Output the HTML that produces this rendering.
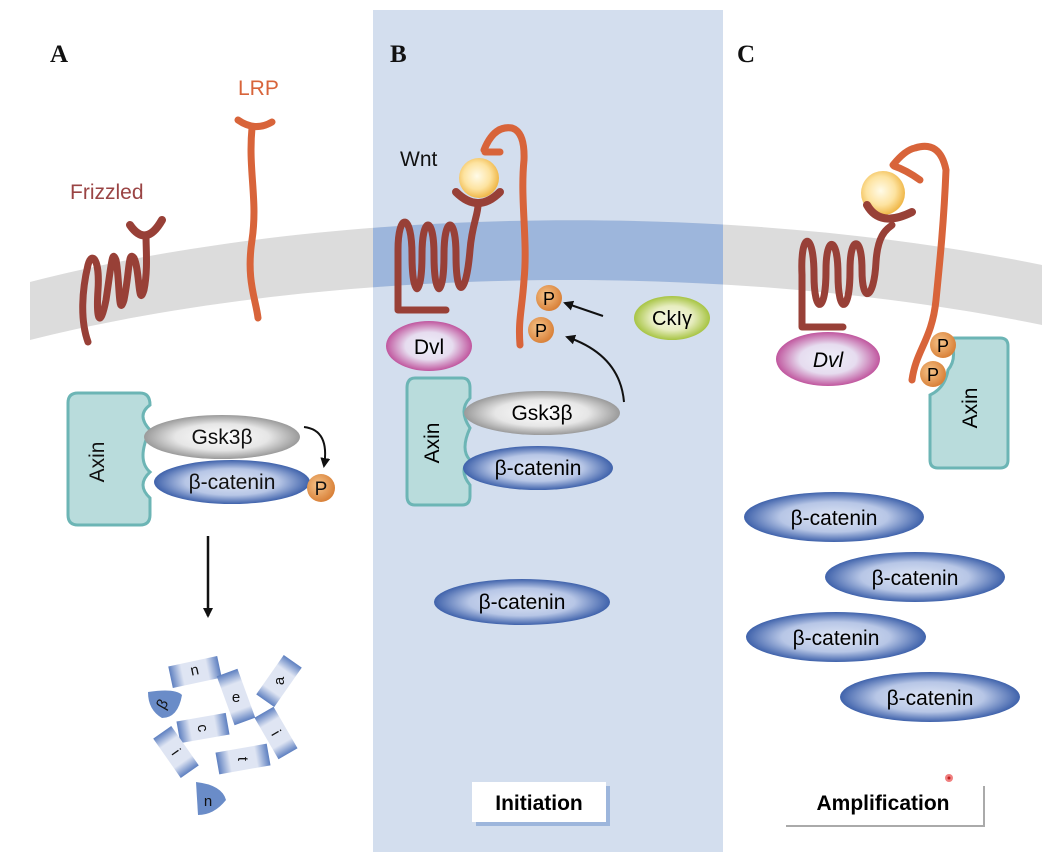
<!DOCTYPE html>
<html><head><meta charset="utf-8"><style>
html,body{margin:0;padding:0;background:#fff}
svg{display:block}
text{font-family:"Liberation Sans",sans-serif}
text.lbl{font-family:"Liberation Serif",serif;font-weight:bold}
</style></head><body>
<svg width="1064" height="868" viewBox="0 0 1064 868" xmlns="http://www.w3.org/2000/svg">
<defs>
<radialGradient id="cat" cx="50%" cy="50%" r="50%"><stop offset="0" stop-color="#dfe6f5"/><stop offset="0.6" stop-color="#b7c6e6"/><stop offset="1" stop-color="#3f62ab"/></radialGradient>
<radialGradient id="gsk" cx="50%" cy="50%" r="50%"><stop offset="0" stop-color="#ffffff"/><stop offset="0.6" stop-color="#e6e6e6"/><stop offset="1" stop-color="#9a9a9a"/></radialGradient>
<radialGradient id="dvl" cx="50%" cy="50%" r="50%"><stop offset="0" stop-color="#eef0fa"/><stop offset="0.55" stop-color="#e6dcef"/><stop offset="1" stop-color="#c0569e"/></radialGradient>
<radialGradient id="ck" cx="50%" cy="50%" r="50%"><stop offset="0" stop-color="#f6f7e6"/><stop offset="0.55" stop-color="#e7edc0"/><stop offset="1" stop-color="#a7c443"/></radialGradient>
<radialGradient id="pp" cx="40%" cy="40%" r="60%"><stop offset="0" stop-color="#f6c48a"/><stop offset="1" stop-color="#d9823a"/></radialGradient>
<radialGradient id="wnt" cx="45%" cy="45%" r="55%"><stop offset="0" stop-color="#fffbe8"/><stop offset="0.6" stop-color="#fde3a0"/><stop offset="1" stop-color="#f0b84a"/></radialGradient>
<linearGradient id="frag" x1="0" y1="0" x2="1" y2="0"><stop offset="0" stop-color="#5d7fc0"/><stop offset="0.25" stop-color="#dfe5f3"/><stop offset="0.75" stop-color="#dfe5f3"/><stop offset="1" stop-color="#5d7fc0"/></linearGradient>
<clipPath id="bclip"><rect x="373" y="10" width="350" height="842"/></clipPath>
<marker id="ah" markerWidth="10" markerHeight="10" refX="8" refY="5" orient="auto" markerUnits="userSpaceOnUse"><path d="M0,0 L10,5 L0,10 Z" fill="#111"/></marker>
</defs>

<rect x="373" y="10" width="350" height="842" fill="#d3deee"/>

<path d="M30,282 C300,212 700,195 1042,265 L1042,325 C700,255 300,272 30,340 Z" fill="#dcdcdc"/>
<path d="M30,282 C300,212 700,195 1042,265 L1042,325 C700,255 300,272 30,340 Z" fill="#9db6dc" clip-path="url(#bclip)"/>

<text class="lbl" x="50" y="62" font-size="25" fill="#111">A</text>
<text class="lbl" x="390" y="62" font-size="25" fill="#111">B</text>
<text class="lbl" x="737" y="62" font-size="25" fill="#111">C</text>
<text x="238" y="95" font-size="21" fill="#d8643a">LRP</text>
<text x="70" y="199" font-size="21" fill="#9a4444">Frizzled</text>

<!-- Panel A receptors -->
<path d="M238,120 Q255,132 272,122 M252,128 C248,170 258,200 252,240 C246,280 256,300 258,318" stroke="#d8643a" stroke-width="7" fill="none" stroke-linecap="round"/>
<path d="M88,342 C80,320 82,290 88,265 C92,250 100,260 98,290 C96,320 100,330 106,300 C112,260 112,250 116,260 C120,280 118,320 124,300 C130,270 128,250 134,258 C140,270 138,310 144,290 C148,270 146,250 146,235" stroke="#984037" stroke-width="7" fill="none" stroke-linecap="round"/>
<path d="M130,225 Q146,248 162,220" stroke="#984037" stroke-width="8" fill="none" stroke-linecap="round"/>

<path d="M78,393 H140 Q150,393 150,405 Q136,415 150,430 Q136,460 150,472 Q136,485 150,498 V515 Q150,525 140,525 H78 Q68,525 68,515 V403 Q68,393 78,393 Z" fill="#b9dcdc" stroke="#6cb5b5" stroke-width="3"/>
<text transform="translate(104,462) rotate(-90)" font-size="21" text-anchor="middle" fill="#111">Axin</text>
<ellipse cx="222" cy="437" rx="78" ry="22" fill="url(#gsk)"/>
<text x="222" y="444" font-size="21" text-anchor="middle" fill="#111">Gsk3β</text>
<ellipse cx="232" cy="482" rx="78" ry="22" fill="url(#cat)"/>
<text x="232" y="489" font-size="21" text-anchor="middle" fill="#111">β-catenin</text>
<circle cx="321" cy="488" r="14" fill="url(#pp)"/>
<text x="321" y="495" font-size="19" text-anchor="middle" fill="#111">P</text>
<path d="M304,427 Q330,430 324,466" stroke="#111" stroke-width="2" fill="none" marker-end="url(#ah)"/>
<line x1="208" y1="536" x2="208" y2="616" stroke="#111" stroke-width="2.5" marker-end="url(#ah)"/>

<g font-size="15" fill="#111" text-anchor="middle">
<g transform="translate(195,672) rotate(-12)"><rect x="-25" y="-11" width="50" height="22" fill="url(#frag)"/><text y="5" transform="rotate(180)">u</text></g>
<g transform="translate(236,697) rotate(70)"><rect x="-26" y="-11" width="52" height="22" fill="url(#frag)"/><text y="5" transform="rotate(-70)">e</text></g>
<g transform="translate(279,681) rotate(-55)"><rect x="-24" y="-11" width="48" height="22" fill="url(#frag)"/><text y="5" transform="rotate(-35)">a</text></g>
<g transform="translate(203,728) rotate(-10)"><rect x="-25" y="-11" width="50" height="22" fill="url(#frag)"/><text y="5" transform="rotate(90)">c</text></g>
<g transform="translate(276,733) rotate(60)"><rect x="-24" y="-11" width="48" height="22" fill="url(#frag)"/><text y="5">i</text></g>
<g transform="translate(176,752) rotate(55)"><rect x="-24" y="-11" width="48" height="22" fill="url(#frag)"/><text y="5">i</text></g>
<g transform="translate(243,759) rotate(-10)"><rect x="-26" y="-11" width="52" height="22" fill="url(#frag)"/><text y="5" transform="rotate(100)">t</text></g>
<path d="M148,692 Q175,688 182,695 Q178,718 162,718 Q148,710 148,692 Z" fill="#6a8cc8"/><text x="164" y="708" transform="rotate(-60 164 705)">β</text>
<path d="M196,782 Q222,785 226,800 Q214,815 198,815 Z" fill="#6a8cc8"/><text x="208" y="806">n</text>
</g>

<!-- Panel B -->
<text x="400" y="166" font-size="21" fill="#111">Wnt</text>
<path d="M484,150 Q494,125 512,128 Q525,132 524,160 C520,200 528,240 524,280 C522,310 518,320 520,345" stroke="#d8643a" stroke-width="7" fill="none" stroke-linecap="round"/>
<path d="M485,152 L500,152" stroke="#d8643a" stroke-width="7" stroke-linecap="round"/>
<circle cx="479" cy="178" r="20" fill="url(#wnt)"/>
<path d="M456,192 Q478,214 500,192" stroke="#984037" stroke-width="8" fill="none" stroke-linecap="round"/>
<path d="M446,310 H398 V250 C398,212 412,212 412,255 C412,300 422,300 422,255 C422,215 434,215 434,255 C434,300 444,300 444,255 C444,215 456,215 456,255 C456,300 466,298 470,250 C472,225 478,215 478,205" stroke="#984037" stroke-width="7" fill="none" stroke-linecap="round" stroke-linejoin="round"/>
<circle cx="549" cy="298" r="13" fill="url(#pp)"/><text x="549" y="305" font-size="18" text-anchor="middle">P</text>
<circle cx="541" cy="330" r="13" fill="url(#pp)"/><text x="541" y="337" font-size="18" text-anchor="middle">P</text>
<ellipse cx="672" cy="318" rx="38" ry="22" fill="url(#ck)"/>
<text x="672" y="325" font-size="20" text-anchor="middle">CkIγ</text>
<line x1="603" y1="316" x2="565" y2="303" stroke="#111" stroke-width="2" marker-end="url(#ah)"/>
<path d="M624,402 Q620,355 567,337" stroke="#111" stroke-width="2" fill="none" marker-end="url(#ah)"/>
<ellipse cx="429" cy="346" rx="43" ry="25" fill="url(#dvl)"/>
<text x="429" y="354" font-size="21" text-anchor="middle">Dvl</text>
<path d="M415,378 H462 Q470,378 470,388 V398 Q458,410 470,428 Q460,450 470,460 Q458,470 470,485 V496 Q470,505 462,505 H415 Q407,505 407,496 V388 Q407,378 415,378 Z" fill="#b9dcdc" stroke="#6cb5b5" stroke-width="3"/>
<text transform="translate(439,443) rotate(-90)" font-size="21" text-anchor="middle">Axin</text>
<ellipse cx="542" cy="413" rx="78" ry="22" fill="url(#gsk)"/>
<text x="542" y="420" font-size="21" text-anchor="middle">Gsk3β</text>
<ellipse cx="538" cy="468" rx="75" ry="22" fill="url(#cat)"/>
<text x="538" y="475" font-size="21" text-anchor="middle">β-catenin</text>
<ellipse cx="522" cy="602" rx="88" ry="23" fill="url(#cat)"/>
<text x="522" y="609" font-size="21" text-anchor="middle">β-catenin</text>
<rect x="476" y="786" width="134" height="40" fill="#9db6dc"/>
<rect x="472" y="782" width="134" height="40" fill="#fff"/>
<text x="539" y="810" font-size="21" font-weight="bold" text-anchor="middle">Initiation</text>

<!-- Panel C -->
<path d="M893,165 Q905,150 915,148 Q940,140 946,170 C944,220 940,260 936,300 C932,340 916,350 912,380" stroke="#d8643a" stroke-width="7" fill="none" stroke-linecap="round"/>
<path d="M894,166 Q906,170 920,180" stroke="#d8643a" stroke-width="7" fill="none" stroke-linecap="round"/>
<circle cx="883" cy="193" r="22" fill="url(#wnt)"/>
<path d="M867,205 Q880,228 912,212" stroke="#984037" stroke-width="8" fill="none" stroke-linecap="round"/>
<path d="M843,327 H802 V275 C800,230 814,230 814,275 C814,315 826,315 826,270 C826,235 838,235 838,275 C838,315 850,315 850,270 C850,235 862,235 862,270 C862,305 874,300 876,262 C878,230 890,228 892,225" stroke="#984037" stroke-width="7" fill="none" stroke-linecap="round" stroke-linejoin="round"/>
<ellipse cx="828" cy="359" rx="52" ry="27" fill="url(#dvl)"/>
<text x="828" y="367" font-size="21" text-anchor="middle" font-style="italic">Dvl</text>
<path d="M950,338 H1000 Q1008,338 1008,346 V460 Q1008,468 1000,468 H938 Q930,468 930,460 V395 Q945,388 948,370 Q958,358 950,338 Z" fill="#b9dcdc" stroke="#6cb5b5" stroke-width="3"/>
<text transform="translate(977,408) rotate(-90)" font-size="21" text-anchor="middle">Axin</text>
<circle cx="943" cy="345" r="13" fill="url(#pp)"/><text x="943" y="352" font-size="18" text-anchor="middle">P</text>
<circle cx="933" cy="374" r="13" fill="url(#pp)"/><text x="933" y="381" font-size="18" text-anchor="middle">P</text>
<ellipse cx="834" cy="517" rx="90" ry="25" fill="url(#cat)"/><text x="834" y="525" font-size="21" text-anchor="middle">β-catenin</text>
<ellipse cx="915" cy="577" rx="90" ry="25" fill="url(#cat)"/><text x="915" y="585" font-size="21" text-anchor="middle">β-catenin</text>
<ellipse cx="836" cy="637" rx="90" ry="25" fill="url(#cat)"/><text x="836" y="645" font-size="21" text-anchor="middle">β-catenin</text>
<ellipse cx="930" cy="697" rx="90" ry="25" fill="url(#cat)"/><text x="930" y="705" font-size="21" text-anchor="middle">β-catenin</text>
<path d="M786,826 H984 V786" stroke="#aaa" stroke-width="2" fill="none"/>
<text x="883" y="810" font-size="21" font-weight="bold" text-anchor="middle">Amplification</text>
<circle cx="949" cy="778" r="4" fill="#f08080"/><circle cx="949" cy="778" r="1.5" fill="#c02020"/>
</svg>
</body></html>
